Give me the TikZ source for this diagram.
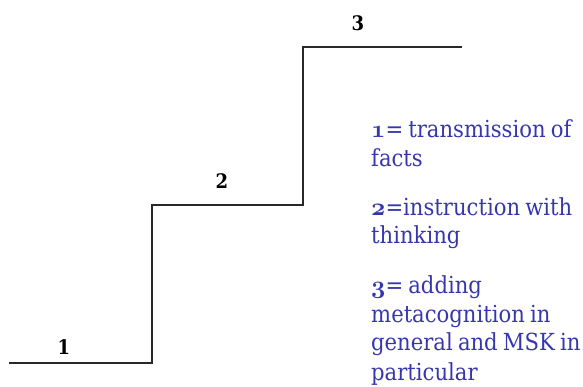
\documentclass[tikz,border=0pt]{standalone}
\usepackage{fontspec}
\newfontfamily\legendfont{DejaVu Serif Condensed}
\definecolor{legendblue}{RGB}{55,55,172}
\definecolor{stairgray}{RGB}{40,40,40}
\newcommand{\osn}[1]{{\boldmath$\mathnormal{#1}$}}
\newcommand{\tightspace}{\spaceskip=0.22em plus 0.05em minus 0.05em\relax}
\begin{document}
\begin{tikzpicture}[x=1pt,y=1pt,
  stair/.style={draw=stairgray,line width=1.9pt,line join=miter},
  steplabel/.style={inner sep=0pt,font=\legendfont\fontsize{20}{22}\selectfont\bfseries},
  legend/.style={anchor=base west,inner sep=0pt,text=legendblue,font=\legendfont\fontsize{23.5}{29}\selectfont,execute at begin node=\tightspace}]
\useasboundingbox (0,0) rectangle (583,386);
\coordinate (s0) at (9,23);
\coordinate (s1) at (152,23);
\coordinate (s2) at (152,181);
\coordinate (s3) at (303,181);
\coordinate (s4) at (303,339);
\coordinate (s5) at (462,339);
\draw[stair] (s0) -- (s1) -- (s2) -- (s3) -- (s4) -- (s5);
\node[steplabel] (l1) at (64,39) {1};
\node[steplabel] (l2) at (222,205) {2};
\node[steplabel] (l3) at (358,363) {3};
\node[legend] (a1) at (371,248) {\osn{1}= transmission of};
\node[legend] (a2) at (371,219) {facts};
\node[legend] (b1) at (371,171) {\osn{2}=instruction with};
\node[legend] (b2) at (371,143) {thinking};
\node[legend] (c1) at (371,93) {\osn{3}= adding};
\node[legend] (c2) at (371,64) {metacognition in};
\node[legend] (c3) at (371,36) {general and MSK in};
\node[legend] (c4) at (371,6) {particular};
\end{tikzpicture}
\end{document}
